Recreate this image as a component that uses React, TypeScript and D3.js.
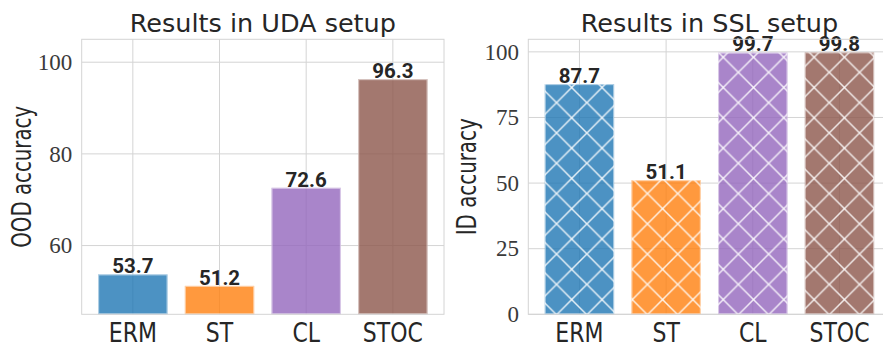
import React from "react";
import * as d3 from "d3";

const categories = ["ERM", "ST", "CL", "STOC"];
const udaValues = [53.7, 51.2, 72.6, 96.3];
const sslValues = [87.7, 51.1, 99.7, 99.8];
const udaTicks = [60, 80, 100];
const sslTicks = [0, 25, 50, 75, 100];
const barColors = ["#1f77b4", "#ff7f0e", "#9467bd", "#8c564b"];

const W = 883;
const H = 343;
const TOP = 39.3;
const BOTTOM = 314.3;
const AXW = 362.3;
const HATCH = 30.3;

type PanelProps = {
  left: number;
  values: number[];
  ticks: number[];
  domain: [number, number];
  title: string;
  ylabel: string;
  ylabelX: number;
  ylabelScale: number;
  hatch: boolean;
};

function Panel({ left, values, ticks, domain, title, ylabel, ylabelX, ylabelScale, hatch }: PanelProps) {
  const right = left + AXW;
  const x = d3
    .scaleBand<string>()
    .domain(categories)
    .range([left, right])
    .paddingInner(0.2)
    .paddingOuter(0.19);
  const y = d3.scaleLinear().domain(domain).range([BOTTOM, TOP]);
  const grid = "#d4d4d4";
  const base = y(domain[0]);
  const cx = (c: string) => (x(c) as number) + x.bandwidth() / 2;
  return (
    <g>
      {/* grid */}
      {ticks.map((t) => (
        <line key={"h" + t} x1={left} x2={right} y1={y(t)} y2={y(t)} stroke={grid} strokeWidth={1} />
      ))}
      {categories.map((c) => (
        <line key={"v" + c} x1={cx(c)} x2={cx(c)} y1={TOP} y2={BOTTOM} stroke={grid} strokeWidth={1} />
      ))}
      {/* bars */}
      {categories.map((c, i) => {
        const top = y(values[i]);
        return (
          <g key={"b" + c}>
            <rect
              x={x(c)}
              y={top}
              width={x.bandwidth()}
              height={base - top}
              fill={barColors[i]}
              fillOpacity={0.8}
            />
            {hatch && (
              <rect
                x={x(c)}
                y={top}
                width={x.bandwidth()}
                height={base - top}
                fill="url(#xhatch)"
              />
            )}
            <rect
              x={(x(c) as number) + 0.5}
              y={top + 0.5}
              width={x.bandwidth() - 1}
              height={base - top - 1}
              fill="none"
              stroke="#ffffff"
              strokeOpacity={0.55}
              strokeWidth={1}
            />
            <text
              x={cx(c)}
              y={top - 1.2}
              textAnchor="middle"
              fontFamily="Roboto"
              fontWeight="bold"
              fontSize={20.5}
              fill="#262626"
            >
              {values[i].toFixed(1)}
            </text>
          </g>
        );
      })}
      {/* frame */}
      <rect x={left} y={TOP} width={AXW} height={BOTTOM - TOP} fill="none" stroke={grid} strokeWidth={1} />
      {/* y ticks */}
      {ticks.map((t) => (
        <text
          key={"yt" + t}
          x={left - 9.4}
          y={y(t) + 7.8}
          textAnchor="end"
          fontFamily="Liberation Serif"
          fontSize={23}
          fill="#3a3a3a"
        >
          {t}
        </text>
      ))}
      {/* x ticks */}
      {categories.map((c) => (
        <text
          key={"xt" + c}
          transform={`translate(${cx(c)},341.8) scale(0.83,1)`}
          textAnchor="middle"
          fontFamily="DejaVu Sans"
          fontSize={26.5}
          fill="#262626"
        >
          {c}
        </text>
      ))}
      {/* title */}
      <text
        x={(left + right) / 2}
        y={31.9}
        textAnchor="middle"
        fontFamily="DejaVu Sans"
        fontSize={25.5}
        fill="#262626"
      >
        {title}
      </text>
      {/* y label */}
      <text
        transform={`translate(${ylabelX},${(TOP + BOTTOM) / 2}) rotate(-90) scale(${ylabelScale},1)`}
        textAnchor="middle"
        fontFamily="DejaVu Sans"
        fontSize={27}
        fill="#262626"
      >
        {ylabel}
      </text>
    </g>
  );
}

export default function App() {
  return (
    <svg
      width={W}
      height={H}
      style={{ position: "absolute", left: 0, top: 0, background: "#ffffff" }}
    >
      <defs>
        <pattern
          id="xhatch"
          patternUnits="userSpaceOnUse"
          width={HATCH}
          height={HATCH}
          x={571.7 - HATCH / 2}
          y={269.3 - HATCH / 2}
        >
          <line x1={0} y1={0} x2={HATCH} y2={HATCH} stroke="#ffffff" strokeOpacity={0.85} strokeWidth={1.5} />
          <line x1={HATCH} y1={0} x2={0} y2={HATCH} stroke="#ffffff" strokeOpacity={0.85} strokeWidth={1.5} />
        </pattern>
      </defs>
      <rect x={0} y={0} width={W} height={H} fill="#ffffff" />
      <Panel
        left={81.7}
        values={udaValues}
        ticks={udaTicks}
        domain={[45, 105]}
        title="Results in UDA setup"
        ylabel="OOD accuracy"
        ylabelX={31.3}
        ylabelScale={0.733}
        hatch={false}
      />
      <Panel
        left={528.3}
        values={sslValues}
        ticks={sslTicks}
        domain={[0, 104.79]}
        title="Results in SSL setup"
        ylabel="ID accuracy"
        ylabelX={476}
        ylabelScale={0.735}
        hatch={true}
      />
    </svg>
  );
}
